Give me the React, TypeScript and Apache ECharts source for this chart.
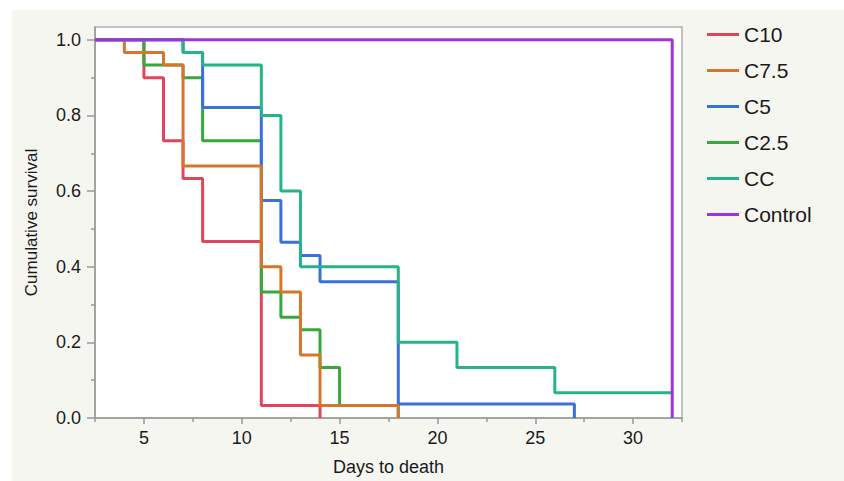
import React, { useEffect, useRef } from "react";
import * as echarts from "echarts";

const groupNames = ["C10", "C7.5", "C5", "C2.5", "CC", "Control"];
const groupColors = ["#E0455C", "#D6762B", "#3A6FE0", "#36A93C", "#26B389", "#A033DD"];

const c10Days = [2.5, 5, 6, 7, 8, 11, 14];
const c10Surv = [1, 0.9, 0.7333, 0.6333, 0.4667, 0.0333, 0];

const c75Days = [2.5, 4, 6, 7, 11, 12, 13, 14, 18];
const c75Surv = [1, 0.9667, 0.9333, 0.6667, 0.4, 0.3333, 0.1667, 0.0333, 0];

const c5Days = [2.5, 7, 8, 11, 12, 13, 14, 18, 27];
const c5Surv = [1, 0.9667, 0.821, 0.575, 0.465, 0.43, 0.36, 0.037, 0];

const c25Days = [2.5, 5, 7, 8, 11, 12, 13, 14, 15, 18];
const c25Surv = [1, 0.9333, 0.9, 0.7333, 0.3333, 0.2667, 0.2333, 0.1333, 0.0333, 0];

const ccDays = [2.5, 7, 8, 11, 12, 13, 18, 21, 26, 32];
const ccSurv = [1, 0.9667, 0.9333, 0.8, 0.6, 0.4, 0.2, 0.1333, 0.0667, 0.0667];

const controlDays = [2.5, 32, 32];
const controlSurv = [1, 1, 0];

const xMajorTicks = [5, 10, 15, 20, 25, 30];
const xMinorTicks = [2.5, 7.5, 12.5, 17.5, 22.5, 27.5, 32.5];
const yMajorTicks = [0, 0.2, 0.4, 0.6, 0.8, 1.0];
const yMinorTicks = [0.1, 0.3, 0.5, 0.7, 0.9];

const groupDays = [c10Days, c75Days, c5Days, c25Days, ccDays, controlDays];
const groupSurv = [c10Surv, c75Surv, c5Surv, c25Surv, ccSurv, controlSurv];
// drawing order bottom -> top
const drawOrder = [0, 3, 2, 1, 4, 5];

const FONT = "'Liberation Sans', Arial, Helvetica, sans-serif";

export default function App() {
  const ref = useRef<HTMLDivElement>(null);
  useEffect(() => {
    if (!ref.current) return;
    const chart = echarts.init(ref.current, null, { renderer: "svg" });
    const xBase = { type: "value", min: 2.5, max: 32.5, splitLine: { show: false } };
    const yBase = { type: "value", min: 0, max: 1.034, splitLine: { show: false } };
    const series = drawOrder.map((i) => ({
      name: groupNames[i],
      type: "line",
      step: i === 5 ? false : "end",
      showSymbol: false,
      symbol: "none",
      data: groupDays[i].map((d, k) => [d, groupSurv[i][k]]),
      lineStyle: { color: groupColors[i], width: 3 },
      itemStyle: { color: groupColors[i] },
      z: 2 + drawOrder.indexOf(i),
      silent: true,
    }));
    chart.setOption({
      animation: false,
      backgroundColor: "#F6F6F1",
      textStyle: { fontFamily: FONT },
      grid: {
        left: 83,
        top: 17,
        right: 162,
        bottom: 60,
        show: true,
        backgroundColor: "#FFFFFF",
        borderColor: "#B0B0B0",
        borderWidth: 1.5,
      },
      legend: {
        orient: "vertical",
        left: 690,
        top: 9,
        padding: 5,
        itemWidth: 32,
        itemHeight: 3,
        itemGap: 15,
        icon: "rect",
        data: groupNames,
        textStyle: { fontSize: 21, color: "#1a1a1a", fontFamily: FONT, padding: [0, 0, 0, 0] },
      },
      xAxis: [
        {
          ...xBase,
          position: "bottom",
          name: "Days to death",
          nameLocation: "middle",
          nameGap: 40,
          nameTextStyle: { fontSize: 18, color: "#1a1a1a", fontFamily: FONT },
          axisLine: { show: true, lineStyle: { color: "#999999", width: 1.5 } },
          axisTick: { show: true, customValues: xMajorTicks, length: 6, lineStyle: { color: "#999999", width: 1.5 } },
          axisLabel: {
            show: true,
            customValues: xMajorTicks,
            margin: 11,
            fontSize: 18,
            color: "#1a1a1a",
            fontFamily: FONT,
          },
        },
        {
          ...xBase,
          position: "bottom",
          axisLine: { show: false },
          axisTick: { show: true, customValues: xMinorTicks, length: 4, lineStyle: { color: "#999999", width: 1.5 } },
          axisLabel: { show: false },
        },
      ],
      yAxis: [
        {
          ...yBase,
          position: "left",
          name: "Cumulative survival",
          nameLocation: "middle",
          nameGap: 55,
          nameTextStyle: { fontSize: 17, color: "#1a1a1a", fontFamily: FONT },
          axisLine: { show: true, lineStyle: { color: "#999999", width: 1.5 } },
          axisTick: { show: true, customValues: yMajorTicks, length: 8, lineStyle: { color: "#999999", width: 1.5 } },
          axisLabel: {
            show: true,
            customValues: yMajorTicks,
            margin: 14,
            fontSize: 18,
            color: "#1a1a1a",
            fontFamily: FONT,
            formatter: (v: number) => v.toFixed(1),
          },
        },
        {
          ...yBase,
          position: "left",
          axisLine: { show: false },
          axisTick: { show: true, customValues: yMinorTicks, length: 4, lineStyle: { color: "#999999", width: 1.5 } },
          axisLabel: { show: false },
        },
      ],
      series,
    });
    return () => chart.dispose();
  }, []);
  return (
    <div style={{ position: "fixed", left: 0, top: 0, width: 844, height: 481, background: "#FFFFFF" }}>
      <div ref={ref} style={{ position: "absolute", left: 12, top: 10, width: 832, height: 471 }} />
    </div>
  );
}
